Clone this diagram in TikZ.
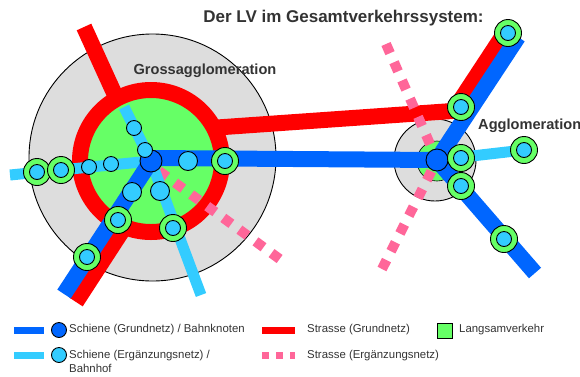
\documentclass[tikz,border=0pt]{standalone}
\usepackage{fontspec}
\setmainfont{Liberation Sans}
\definecolor{railblue}{RGB}{0,102,255}
\definecolor{extblue}{RGB}{51,204,255}
\definecolor{slowgreen}{RGB}{102,255,102}
\definecolor{roadred}{RGB}{255,0,0}
\definecolor{extpink}{RGB}{255,102,153}
\definecolor{zonegrey}{RGB}{221,221,221}
\definecolor{labelgrey}{RGB}{51,51,51}
\tikzset{
    zone/.style={circle, draw=black, line width=0.9, fill=zonegrey, inner sep=0},
    hub/.style={circle, draw=black, line width=0.9, fill=railblue, inner sep=0, minimum size=22},
    stop/.style={circle, draw=black, line width=0.9, fill=extblue, inner sep=0, minimum size=15},
    bigstop/.style={circle, draw=black, line width=0.9, fill=extblue, inner sep=0, minimum size=19},
    ring/.style={circle, draw=black, line width=0.9, fill=slowgreen, inner sep=0, minimum size=27},
    rail/.style={line width=16, railblue},
    railext/.style={line width=11, extblue},
    road/.style={line width=16, roadred},
    roadext/.style={line width=10, extpink, dash pattern=on 10 off 9.9},
    legendtext/.style={inner sep=0, anchor=west, text=labelgrey, font=\fontsize{11.4}{14}\selectfont, align=left},
    title/.style={inner sep=0, text=labelgrey, font=\bfseries\fontsize{17}{19}\selectfont}
}
% ring with stop on top
\newcommand{\ringstop}[2]{
    \node[ring] (ring_#1) at (#2) {};
    \node[stop] (stop_#1) at (#2) {};
}
\begin{document}
\begin{tikzpicture}[x=1pt, y=-1pt]
    \useasboundingbox (0,0) rectangle (580,376);

    % zones
    \node[zone, minimum size=247] (big) at (152.5,157.5) {};
    \node[zone, minimum size=82] (small) at (435,160) {};
    \node[circle, fill=slowgreen, draw=black, line width=0.6, inner sep=0, minimum size=40] (smallgreen) at (437,161) {};
    \node[circle, fill=slowgreen, draw=roadred, line width=16, inner sep=0, minimum size=142] (bigring) at (151,161) {};

    % coordinates of the line ends
    \coordinate (hub_a) at (151,161);
    \coordinate (hub_b) at (437,160);
    \coordinate (red_n) at (84,27);
    \coordinate (red_nb) at (115,95);
    \coordinate (red_e) at (217,127.5);
    \coordinate (red_s) at (76,302);
    \coordinate (red_sb) at (126,225);
    \coordinate (red_k) at (461,110.4);
    \coordinate (red_kb) at (456,107);
    \coordinate (red_ne) at (502,37);
    \coordinate (blue_w) at (151,158);
    \coordinate (blue_sw) at (64,294);
    \coordinate (blue_ne) at (518,37);
    \coordinate (blue_se) at (535,273);
    \coordinate (ext_w) at (10,175);
    \coordinate (ext_n) at (124,107);
    \coordinate (ext_s) at (201,295);
    \coordinate (ext_e) at (524,150);

    %% roads
    \draw[road] (red_n)--(red_nb);
    \draw[road] (red_e)--(red_k);
    \draw[road] (red_kb)--(red_ne);
    \draw[road] (red_s)--(red_sb);

    % second network
    \draw[roadext] (159,171)--(281,260);
    \draw[roadext] (386,44)--(437,160);
    \draw[roadext] (382,269)--(437,160);
    \draw[railext] (ext_w)--(hub_a);
    \draw[railext] (ext_n)--(hub_a);
    \draw[railext] (hub_a)--(ext_s);
    \draw[railext] (hub_b)--(ext_e);

    %% rail
    \draw[rail] (blue_w)--(hub_b);
    \draw[rail] (hub_a)--(blue_sw);
    \draw[rail] (hub_b)--(blue_ne);
    \draw[rail] (hub_b)--(blue_se);

    % nodes
    \node[hub] (hub_left) at (hub_a) {};
    \node[hub] (hub_right) at (hub_b) {};
    \foreach \name/\pos in {a/{134,128}, b/{145,150}, c/{111,164}, d/{89,167}} {
        \node[stop] (stop_\name) at (\pos) {};
    }
    \foreach \name/\pos in {e/{188,161}, f/{132,192}, g/{160,191}} {
        \node[bigstop] (stop_\name) at (\pos) {};
    }
    \foreach \name/\pos in {h/{225,161}, i/{118,220}, j/{173,228}, k/{87,257}, l/{37,172},
        m/{61,170}, n/{508,33}, o/{461,107}, p/{461,158}, q/{461,186}, r/{504,239}, s/{524,150}} {
        \ringstop{\name}{\pos}
    }

    % labels
    \node[title] (head) at (343.5,18) {Der LV im Gesamtverkehrssystem:};
    \node[title, font=\bfseries\fontsize{14.6}{16}\selectfont] (grosslabel) at (205,71) {Grossagglomeration};
    \node[title, font=\bfseries\fontsize{14.6}{16}\selectfont, anchor=west] (agglolabel) at (478,126) {Agglomeration};

    %% legend
    \coordinate (leg_a) at (14,330);
    \coordinate (leg_ae) at (44,330);
    \coordinate (leg_b) at (14,355);
    \coordinate (leg_be) at (44,355);
    \coordinate (leg_c) at (262,330);
    \coordinate (leg_ce) at (295,330);
    \coordinate (leg_d) at (262,355);
    \coordinate (leg_de) at (295,355);
    \draw[railblue, line width=7] (leg_a)--(leg_ae);
    \draw[extblue, line width=7] (leg_b)--(leg_be);
    \draw[roadred, line width=7] (leg_c)--(leg_ce);
    \draw[extpink, line width=7, dash pattern=on 7 off 7] (leg_d)--(leg_de);
    \node[hub, minimum size=15] (leg_hub) at (59,330) {};
    \node[stop, minimum size=15] (leg_stop) at (59,355) {};
    \node[draw=black, line width=0.9, fill=slowgreen, inner sep=0, minimum size=15] (leg_green) at (445,331) {};
    \node[legendtext] (txt_a) at (69,330) {Schiene (Grundnetz) / Bahnknoten};
    \node[legendtext, anchor=north west] (txt_b) at (69,350) {Schiene (Ergänzungsnetz) /\\Bahnhof};
    \node[legendtext] (txt_c) at (307,330) {Strasse (Grundnetz)};
    \node[legendtext] (txt_d) at (307,356) {Strasse (Ergänzungsnetz)};
    \node[legendtext] (txt_e) at (459,330) {Langsamverkehr};
\end{tikzpicture}
\end{document}
